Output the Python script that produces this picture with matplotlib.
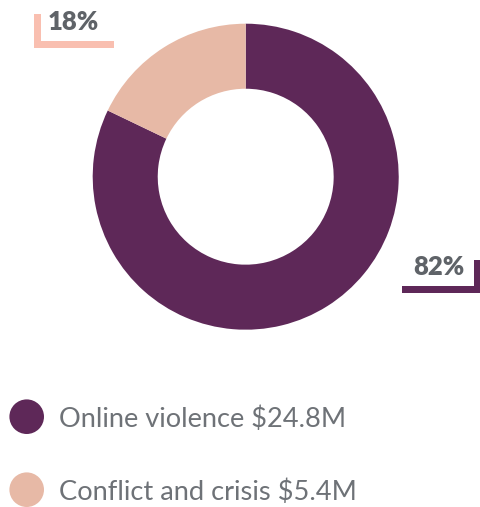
import matplotlib
matplotlib.use("Agg")
import matplotlib.pyplot as plt
from matplotlib.patches import Rectangle, Circle

# Funding by category (USD millions)
categories = ["Online violence", "Conflict and crisis"]
amounts = [24.8, 5.4]
amount_labels = ["$24.8M", "$5.4M"]
pct_labels = ["82%", "18%"]

colors = ["#5E2858", "#E7B9A6"]
bracket_colors = ["#5E2858", "#F9BFB0"]
text_gray = "#5F6368"
legend_gray = "#6E7277"

W, H = 480, 507
fig = plt.figure(figsize=(W / 100, H / 100), dpi=100)
ax = fig.add_axes([0, 0, 1, 1])

# Donut (y axis is inverted, so clockwise on screen = counterclock in data)
cx, cy, r = 245.7, 176.7, 153
ax.pie(amounts, colors=colors, startangle=-90, counterclock=True,
       radius=r, center=(cx, cy), wedgeprops=dict(width=r * 0.425, linewidth=0),
       frame=True)
ax.set_xlim(0, W)
ax.set_ylim(H, 0)
ax.set_aspect("equal")
ax.axis("off")

# Percentage callouts with bracket shapes
# 18% (top-left)
ax.add_patch(Rectangle((34, 13.5), 6.5, 34, color=bracket_colors[1], lw=0))
ax.add_patch(Rectangle((34, 41), 80, 6.7, color=bracket_colors[1], lw=0))
ax.text(48, 30.5, pct_labels[1], fontsize=18.5, fontweight="heavy",
        family=["Lato", "DejaVu Sans"], color=text_gray, ha="left", va="baseline")
# 82% (right)
ax.add_patch(Rectangle((473.5, 260), 6, 33.3, color=bracket_colors[0], lw=0))
ax.add_patch(Rectangle((402, 286), 78, 7.3, color=bracket_colors[0], lw=0))
ax.text(413, 275, pct_labels[0], fontsize=18.5, fontweight="heavy",
        family=["Lato", "DejaVu Sans"], color=text_gray, ha="left", va="baseline")

# Legend
legend_y = [416.7, 489.7]
for name, amt, col, y in zip(categories, amount_labels, colors, legend_y):
    ax.add_patch(Circle((26.7, y), 17.3, color=col, lw=0))
    ax.text(59, y + 10, f"{name} {amt}", fontsize=19.6, fontweight="normal",
            family=["Lato", "DejaVu Sans"], color=legend_gray, ha="left", va="baseline")

fig.savefig("out.png", dpi=100)
